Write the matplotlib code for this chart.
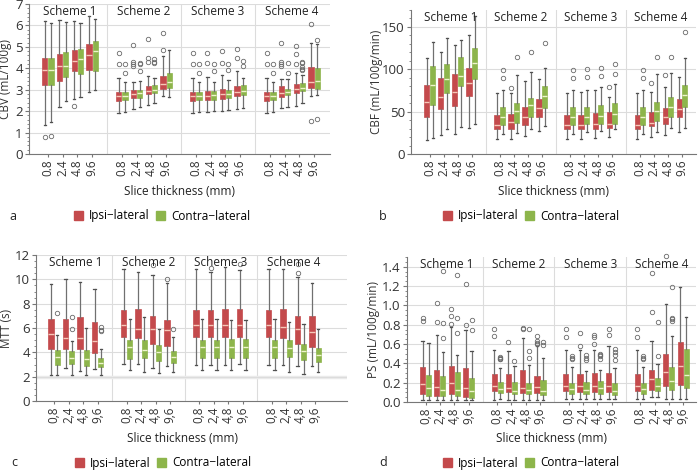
import matplotlib
matplotlib.use('Agg')
import matplotlib.pyplot as plt
from matplotlib.patches import Patch
from matplotlib.ticker import MultipleLocator, FormatStrFormatter

plt.rcParams['font.family'] = ['Open Sans', 'DejaVu Sans']

schemes = ['Scheme 1', 'Scheme 2', 'Scheme 3', 'Scheme 4']
thickness = ['0.8', '2.4', '4.8', '9.6']
sides = ['Ipsi\u2212lateral', 'Contra\u2212lateral']

# each row: whisker low, q1, median, q3, whisker high
# order: scheme 1..4, each with 0.8, 2.4, 4.8, 9.6 mm
cbv_ipsi = [
    [1.35, 3.2, 3.9, 4.5, 6.2], [2.2, 3.4, 4.1, 4.65, 6.25], [2.55, 3.85, 4.35, 4.85, 6.2], [2.9, 3.9, 4.6, 5.15, 6.45],
    [1.9, 2.45, 2.7, 2.9, 3.55], [2.1, 2.6, 2.8, 3.0, 3.35], [2.3, 2.8, 2.95, 3.15, 3.65], [2.7, 3.05, 3.25, 3.65, 4.55],
    [1.9, 2.45, 2.7, 2.9, 3.55], [1.95, 2.5, 2.72, 2.95, 3.6], [2.0, 2.55, 2.8, 3.05, 3.7], [2.1, 2.7, 2.9, 3.15, 3.85],
    [1.9, 2.45, 2.7, 2.9, 3.55], [2.15, 2.65, 2.85, 3.15, 3.5], [2.25, 2.85, 3.05, 3.25, 3.8], [2.7, 3.1, 3.35, 4.05, 5.2],
]
cbv_ipsi_out = [
    [0.8], [], [2.25], [],
    [4.7, 4.2], [5.1, 4.3, 4.2, 4.1], [5.35, 4.5, 4.3], [5.65, 4.85],
    [4.7, 4.2], [4.7, 4.25], [4.8, 4.25], [4.9, 4.5],
    [4.7, 4.2], [5.2, 4.3, 4.2, 4.1], [5.05, 4.65, 4.2], [6.05, 1.55],
]
cbv_contra = [
    [1.5, 3.2, 3.9, 4.5, 6.1], [2.45, 3.6, 4.1, 4.75, 6.15], [2.65, 3.75, 4.45, 4.9, 6.1], [3.0, 3.85, 4.8, 5.25, 6.3],
    [1.97, 2.5, 2.72, 2.9, 3.35], [2.2, 2.6, 2.85, 3.0, 3.4], [2.4, 2.85, 3.0, 3.2, 3.55], [2.65, 3.1, 3.35, 3.8, 4.85],
    [1.97, 2.5, 2.72, 2.9, 3.35], [2.0, 2.5, 2.75, 2.95, 3.35], [2.05, 2.6, 2.8, 3.0, 3.45], [2.15, 2.75, 2.95, 3.2, 3.55],
    [1.97, 2.5, 2.72, 2.9, 3.35], [2.2, 2.75, 2.9, 3.05, 3.5], [2.4, 2.95, 3.1, 3.3, 3.7], [2.75, 3.05, 3.4, 4.0, 5.15],
]
cbv_contra_out = [
    [0.82], [], [], [],
    [4.2, 3.8], [4.25, 4.22, 3.85], [4.45, 4.3, 4.25], [],
    [4.2, 3.8], [4.2, 3.85], [4.2, 3.9], [4.35, 4.1],
    [4.2, 3.8], [4.25, 3.8], [4.3, 4.25, 4.05, 3.95, 3.9], [5.3, 1.65],
]

cbf_ipsi = [
    [17, 44, 61, 82, 113], [22, 53, 67, 90, 121], [24, 57, 73, 95, 129], [31, 69, 84, 102, 140],
    [18, 29, 34, 46, 72], [18, 30, 38, 47, 72], [21, 34, 44, 55, 86], [27, 44, 54, 65, 88],
    [18, 29, 34, 46, 72], [18, 29, 34, 46, 73], [19, 29, 35, 48, 76], [20, 31, 36, 50, 67],
    [18, 29, 34, 46, 72], [20, 33, 37, 49, 73], [22, 36, 44, 54, 79], [26, 44, 53, 65, 91],
]
cbf_ipsi_out = [
    [], [], [], [],
    [], [78], [], [],
    [], [], [], [79],
    [], [84], [93], [],
]
cbf_contra = [
    [19, 58, 82, 104, 132], [29, 72, 88, 106, 137], [32, 80, 92, 114, 135], [35, 89, 107, 125, 163],
    [24, 34, 44, 55, 75], [25, 37, 51, 60, 93], [29, 44, 58, 66, 97], [33, 54, 68, 80, 102],
    [24, 34, 44, 55, 75], [26, 35, 44, 56, 76], [27, 36, 45, 58, 79], [29, 36, 47, 60, 83],
    [24, 34, 44, 55, 75], [26, 39, 51, 61, 95], [31, 44, 56, 67, 96], [31, 56, 70, 82, 113],
]
cbf_contra_out = [
    [], [], [], [],
    [99, 90], [115], [121], [131],
    [99, 90], [100, 91], [102, 92], [106, 95],
    [99, 90], [115], [115], [144],
]

mtt_ipsi = [
    [2.13, 4.3, 5.5, 6.74, 9.6], [2.73, 4.28, 5.17, 6.74, 10.05], [2.46, 4.25, 5.19, 6.9, 9.8], [2.6, 3.92, 4.94, 6.46, 9.17],
    [3.01, 5.25, 6.24, 7.51, 10.88], [3.01, 5.17, 5.94, 7.6, 10.58], [2.68, 4.7, 5.88, 7.02, 10.36], [2.87, 4.48, 5.83, 6.66, 9.67],
    [3.0, 5.25, 6.24, 7.5, 10.85], [3.0, 5.28, 6.24, 7.5, 10.57], [3.0, 5.3, 6.27, 7.6, 10.98], [3.05, 5.28, 6.24, 7.55, 10.77],
    [3.0, 5.25, 6.24, 7.5, 10.85], [2.98, 5.15, 6.05, 7.55, 10.85], [2.9, 4.7, 5.9, 7.0, 10.2], [2.85, 4.45, 5.68, 7.0, 9.7],
]
mtt_ipsi_out = [
    [], [], [], [],
    [], [], [11.16], [10.03],
    [], [10.95], [], [11.23],
    [], [], [11.3, 10.5], [],
]
mtt_contra = [
    [2.13, 3.0, 3.6, 4.2, 5.44], [2.13, 3.07, 3.53, 4.1, 4.94], [2.13, 2.87, 3.48, 4.17, 6.02], [2.13, 2.82, 3.15, 3.56, 4.3],
    [2.54, 3.48, 4.45, 5.03, 6.74], [2.35, 3.51, 4.23, 5.0, 6.93], [2.32, 3.31, 4.06, 4.59, 5.94], [2.35, 3.12, 3.65, 4.14, 5.25],
    [2.54, 3.5, 4.45, 5.03, 6.74], [2.54, 3.55, 4.4, 5.03, 6.74], [2.54, 3.5, 4.45, 5.1, 6.65], [2.54, 3.55, 4.4, 5.1, 6.68],
    [2.54, 3.5, 4.45, 5.03, 6.74], [2.4, 3.6, 4.35, 5.03, 6.5], [2.25, 3.4, 4.1, 4.65, 6.32], [2.4, 3.2, 3.75, 4.35, 5.9],
]
mtt_contra_out = [
    [7.26], [6.88, 5.94], [], [6.08, 5.86, 5.72],
    [], [], [], [5.88],
    [], [], [], [],
    [], [], [], [],
]

ps_ipsi = [
    [0.024, 0.087, 0.19, 0.364, 0.634], [0.024, 0.066, 0.16, 0.326, 0.696], [0.024, 0.087, 0.197, 0.37, 0.777], [0.024, 0.055, 0.146, 0.353, 0.75],
    [0.024, 0.11, 0.17, 0.288, 0.537], [0.024, 0.107, 0.15, 0.29, 0.53], [0.024, 0.09, 0.15, 0.326, 0.66], [0.024, 0.097, 0.16, 0.274, 0.58],
    [0.035, 0.11, 0.167, 0.285, 0.537], [0.035, 0.104, 0.163, 0.288, 0.537], [0.035, 0.107, 0.163, 0.295, 0.537], [0.035, 0.104, 0.17, 0.305, 0.58],
    [0.035, 0.11, 0.167, 0.285, 0.537], [0.052, 0.128, 0.236, 0.33, 0.634], [0.035, 0.17, 0.312, 0.5, 1.01], [0.035, 0.173, 0.37, 0.624, 1.19],
]
ps_ipsi_out = [
    [0.87, 0.84], [1.02, 0.83], [0.96, 0.89, 0.81], [1.22, 0.80],
    [0.755, 0.683], [0.62], [0.77, 0.76], [0.68, 0.63, 0.61, 0.6],
    [0.756, 0.676], [0.71, 0.58], [0.693, 0.669, 0.6], [0.756, 0.696],
    [0.756, 0.676], [1.33, 0.936], [1.51], [],
]
ps_contra = [
    [0.024, 0.059, 0.142, 0.277, 0.606], [0.024, 0.059, 0.121, 0.267, 0.513], [0.024, 0.059, 0.121, 0.308, 0.485], [0.02, 0.038, 0.114, 0.25, 0.53],
    [0.03, 0.09, 0.132, 0.204, 0.35], [0.024, 0.08, 0.118, 0.204, 0.37], [0.024, 0.08, 0.12, 0.2, 0.38], [0.02, 0.07, 0.11, 0.23, 0.46],
    [0.035, 0.087, 0.135, 0.2, 0.357], [0.035, 0.08, 0.122, 0.205, 0.322], [0.035, 0.087, 0.149, 0.215, 0.326], [0.035, 0.07, 0.111, 0.2, 0.347],
    [0.035, 0.087, 0.135, 0.2, 0.357], [0.052, 0.115, 0.167, 0.253, 0.395], [0.035, 0.128, 0.218, 0.357, 0.682], [0.035, 0.149, 0.277, 0.551, 0.884],
]
ps_contra_out = [
    [], [1.36, 0.82, 0.66], [1.31, 0.87, 0.71], [0.85, 0.75],
    [0.47, 0.46, 0.45, 0.44], [0.42], [0.755, 0.53, 0.46], [0.617, 0.59],
    [0.475, 0.46, 0.445], [0.49, 0.46, 0.43], [0.5, 0.49, 0.48, 0.44], [0.55, 0.516, 0.485, 0.43],
    [0.475, 0.46, 0.445], [0.825, 0.48], [1.19, 0.873, 0.856, 0.838], [],
]

RED = '#c44a4c'
GREEN = '#8db54b'
GRID = '#dcdcdc'
W, H = 698, 470

fig = plt.figure(figsize=(6.98, 4.70), dpi=100)


def px_rect(l, r, top, bottom):
    return [l / W, 1 - bottom / H, (r - l) / W, (bottom - top) / H]


def draw_panel(rect, xlim, ipsi, ipsi_out, contra, contra_out, ylabel, ylim, major, minor,
               yfmt, comma, letter, xlab_pos, leg_pos, letter_pos, ylab_x):
    ax = fig.add_axes(rect)
    centers = [5 * s + t for s in range(4) for t in range(4)]
    for side, (stats, outs, col, med) in enumerate([
            (ipsi, ipsi_out, RED, '#f6c8b8'),
            (contra, contra_out, GREEN, '#eef4cc')]):
        off = -0.21 if side == 0 else 0.21
        boxes = []
        for row, fl in zip(stats, outs):
            boxes.append(dict(whislo=row[0], q1=row[1], med=row[2], q3=row[3], whishi=row[4], fliers=fl))
        res = ax.bxp(boxes, positions=[c + off for c in centers], widths=0.36, capwidths=0.16,
                     patch_artist=True, manage_ticks=False,
                     boxprops=dict(facecolor=col, edgecolor=col, linewidth=0.5),
                     medianprops=dict(color=med, linewidth=1.0),
                     whiskerprops=dict(color='#707070', linewidth=0.9),
                     capprops=dict(color='#505050', linewidth=0.9),
                     flierprops=dict(marker='o', markerfacecolor='none', markeredgecolor='#6a6a6a',
                                     markersize=3.2, markeredgewidth=0.6))
        for fl in res['fliers']:
            fl.set_clip_on(False)

    ax.set_xlim(*xlim)
    ax.set_ylim(*ylim)
    for x in [4, 9, 14]:
        ax.axvline(x, color=GRID, lw=0.8, zorder=0)
    ax.yaxis.set_major_locator(MultipleLocator(major))
    ax.yaxis.set_minor_locator(MultipleLocator(minor))
    ax.yaxis.set_major_formatter(FormatStrFormatter(yfmt))
    ax.yaxis.grid(True, color=GRID, lw=0.8)
    ax.set_axisbelow(True)
    labels = [t.replace('.', ',') if comma else t for t in thickness] * 4
    ax.set_xticks(centers)
    ax.set_xticklabels(labels, rotation=90, fontsize=8.5, color='#333333')
    ax.tick_params(axis='y', labelsize=9.5, labelcolor='#333333', length=3, color='#777777', pad=1.5)
    ax.tick_params(axis='y', which='minor', length=1.5, color='#777777')
    ax.tick_params(axis='x', length=2, color='#777777', pad=2)
    for sp in ['top', 'right']:
        ax.spines[sp].set_visible(False)
    for sp in ['left', 'bottom']:
        ax.spines[sp].set_color('#777777')
        ax.spines[sp].set_linewidth(0.8)
    ax.set_ylabel(ylabel, fontsize=8.5, color='#333333')
    ax.yaxis.set_label_coords((ylab_x / W - rect[0]) / rect[2], 0.5)
    ax.yaxis.label.set_va('center')
    for s, name in enumerate(schemes):
        ax.text(5 * s + 1.5, 0.995, name, transform=ax.get_xaxis_transform(),
                ha='center', va='top', fontsize=8.5, color='#222222')
    fig.text(xlab_pos[0] / W, 1 - xlab_pos[1] / H, 'Slice thickness (mm)',
             ha='center', va='center', fontsize=8.5, color='#222222')
    fig.text(letter_pos[0] / W, 1 - letter_pos[1] / H, letter,
             ha='center', va='center', fontsize=9, color='#222222')
    handles = [Patch(facecolor=RED, edgecolor=RED, label=sides[0]),
               Patch(facecolor=GREEN, edgecolor=GREEN, label=sides[1])]
    fig.legend(handles=handles, loc='center', bbox_to_anchor=(leg_pos[0] / W, 1 - leg_pos[1] / H),
               ncol=2, frameon=False, fontsize=8.5, handlelength=0.75, handleheight=0.75,
               handletextpad=0.5, columnspacing=0.6, borderpad=0)
    return ax


draw_panel(px_rect(29, 330, 4, 154), (-1.27, 19.07), cbv_ipsi, cbv_ipsi_out, cbv_contra, cbv_contra_out,
           'CBV (mL/100g)', (0, 7), 1, 0.2, '%d', False, 'a', (179, 192), (162, 216), (13, 216), 6)
draw_panel(px_rect(411, 696, 10, 154), (-1.35, 19.0), cbf_ipsi, cbf_ipsi_out, cbf_contra, cbf_contra_out,
           'CBF (mL/100g/min)', (0, 170), 50, 10, '%d', False, 'b', (554, 192), (531, 216), (383, 216), 376)
draw_panel(px_rect(36, 347, 255, 401), (-1.25, 20.2), mtt_ipsi, mtt_ipsi_out, mtt_contra, mtt_contra_out,
           'MTT (s)', (0, 12), 2, 0.5, '%d', True, 'c', (183, 438), (163, 463), (14, 463), 7)
draw_panel(px_rect(407, 696, 257, 402), (-1.3, 18.9), ps_ipsi, ps_ipsi_out, ps_contra, ps_contra_out,
           'PS (mL/100g/min)', (0, 1.5), 0.2, 0.05, '%.1f', True, 'd', (552, 438), (531, 463), (383, 463), 373)

# lighter reference band at 2 s in the MTT panel
fig.axes[2].axhline(2, color='#ebebeb', lw=2.5, zorder=0)

fig.savefig('out.png', dpi=100)
